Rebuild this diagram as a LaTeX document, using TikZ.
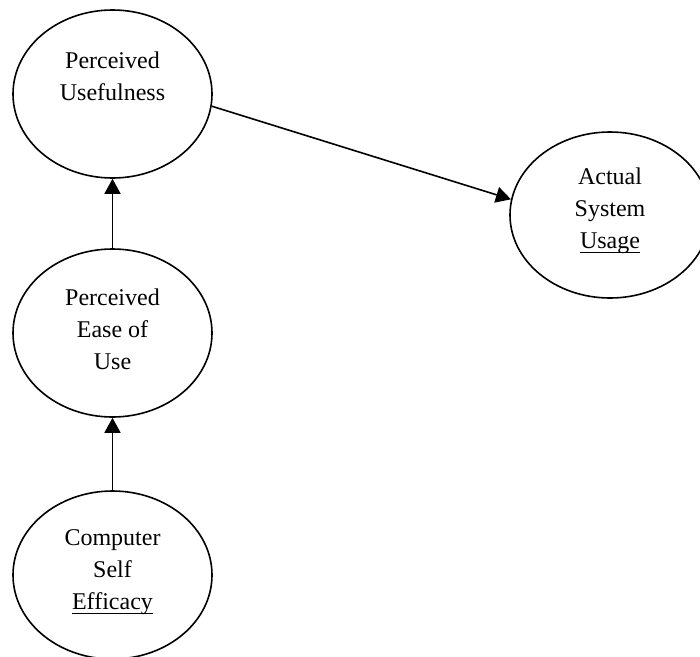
\documentclass[tikz,border=0pt]{standalone}
\usepackage{fontspec}
\setmainfont{Liberation Serif}
\usetikzlibrary{shapes.geometric,arrows.meta}

% word with a rule under it, set close below the baseline
\newcommand\ulword[1]{\setbox0\hbox{#1}\rlap{\rule[-4.5pt]{\wd0}{1.3pt}}\box0}

\tikzset{
  construct/.style={ellipse, draw, line width=1.6pt, inner sep=0pt},
  caption/.style={align=center, font=\fontsize{24}{32}\selectfont, inner sep=0pt},
  link/.style={line width=1.6pt, -{Triangle[length=15pt,width=16pt]}}
}

\begin{document}
\begin{tikzpicture}[x=1pt, y=-1pt]
  \useasboundingbox (0,0) rectangle (700,656);
  \begin{scope}
    \clip (0,0) rectangle (700,656);

    % constructs
    \node[construct, minimum width=199pt, minimum height=168pt] (pu)  at (112.5,94)  {};
    \node[construct, minimum width=200pt, minimum height=166pt] (asu) at (610,215)   {};
    \node[construct, minimum width=199pt, minimum height=168pt] (peu) at (112.5,333) {};
    \node[construct, minimum width=199pt, minimum height=168pt] (cse) at (112.5,575) {};

    % their names
    \node[caption] (pu-t)  at (112.5,76)  {Perceived\\Usefulness};
    \node[caption] (asu-t) at (610,211)   {Actual\\System\\\ulword{Usage}};
    \node[caption] (peu-t) at (112.5,329) {Perceived\\Ease of\\Use};
    \node[caption] (cse-t) at (112.5,572) {Computer\\Self\\\ulword{Efficacy}};
  \end{scope}

  % relations
  \draw[link] (cse.north) -- (peu.south);
  \draw[link] (peu.north) -- (pu.south);
  \draw[link] (pu.-7.5) -- (asu.171.5);
\end{tikzpicture}
\end{document}
